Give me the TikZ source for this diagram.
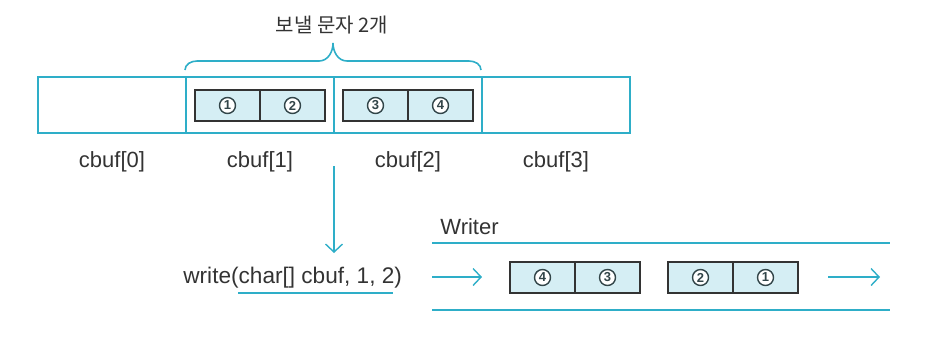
\documentclass[tikz,border=0pt]{standalone}
\usepackage{fontspec}
\setmainfont{Liberation Sans}
\newfontfamily\krfont{Noto Sans CJK KR}
\definecolor{ink}   {HTML}{333333}
\definecolor{teal}  {HTML}{2EAEC8}
\definecolor{cell}  {HTML}{D5EEF4}
\usetikzlibrary{positioning,arrows.meta}
\tikzset{
  bufcell/.style={draw=teal,line width=0.6pt,minimum width=74pt,
                  minimum height=28pt,inner sep=0pt},
  slot/.style={draw=ink,line width=0.7pt,fill=cell,minimum width=32.5pt,
               minimum height=15.5pt,inner sep=0pt},
  num/.style={circle,draw=ink!85!teal,line width=0.7pt,fill=white,
              minimum size=8pt,inner sep=0pt,
              font=\fontsize{6.5}{6.5}\selectfont\bfseries,text=ink!85!teal},
  lbl/.style={font=\fontsize{11}{13}\selectfont,text=ink,inner sep=0pt},
  rail/.style={draw=teal,line width=0.8pt},
  flow/.style={-{Straight Barb[length=4pt,width=8.5pt]},draw=teal,line width=0.7pt}
}
\begin{document}
\begin{tikzpicture}[x=0.5pt,y=-0.5pt]
  \useasboundingbox (0,0) rectangle (940,339);
  % cbuf[0..3]
  \foreach \x [count=\i from 0] in {112,260,408,556} {
    \node[bufcell] (c\i) at (\x,105) {};
    \node[lbl,below=9pt of c\i] (cl\i) {cbuf[\i]};
  }
  % chars to send
  \foreach \x/\n [count=\i] in {227.5/1,292.5/2,375.5/3,440.5/4} {
    \node[slot] (top\i) at (\x,105.5) {};
    \node[num] at (top\i) {\n};
  }
  % brace
  \draw[teal,line width=0.8pt] (185,70) to[out=90,in=180] (197,61) -- (319,61)
    to[out=0,in=-90] (333,43) to[out=-90,in=180] (347,61) -- (469,61)
    to[out=0,in=90] (481,70);
  \node[lbl,font=\krfont\fontsize{10}{12}\selectfont] (sendtxt) at (332,25) {보낼 문자 2개};
  % write call
  \coordinate (dn0) at (334,166);
  \coordinate (dn1) at (334,253);
  \draw[flow] (dn0) -- (dn1);
  \node[lbl,anchor=west,font=\fontsize{11.3}{13}\selectfont] (call) at (183,278) {write(char[] cbuf, 1, 2)};
  \draw[teal,line width=0.8pt] (238,293) -- (393,293);
  % writer stream
  \node[lbl,anchor=west] (wr) at (440,227) {Writer};
  \coordinate (r0) at (432,243);
  \coordinate (r1) at (890,243);
  \coordinate (r2) at (432,310);
  \coordinate (r3) at (890,310);
  \draw[rail] (r0) -- (r1);
  \draw[rail] (r2) -- (r3);
  \foreach \x/\n [count=\i] in {542.5/4,607.5/3,700.5/2,765.5/1} {
    \node[slot] (w\i) at (\x,277.5) {};
    \node[num] at (w\i) {\n};
  }
  \coordinate (inA) at (432,277);
  \coordinate (inB) at (482,277);
  \coordinate (outA) at (828,277);
  \coordinate (outB) at (880,277);
  \draw[flow] (inA) -- (inB);
  \draw[flow] (outA) -- (outB);
\end{tikzpicture}
\end{document}
